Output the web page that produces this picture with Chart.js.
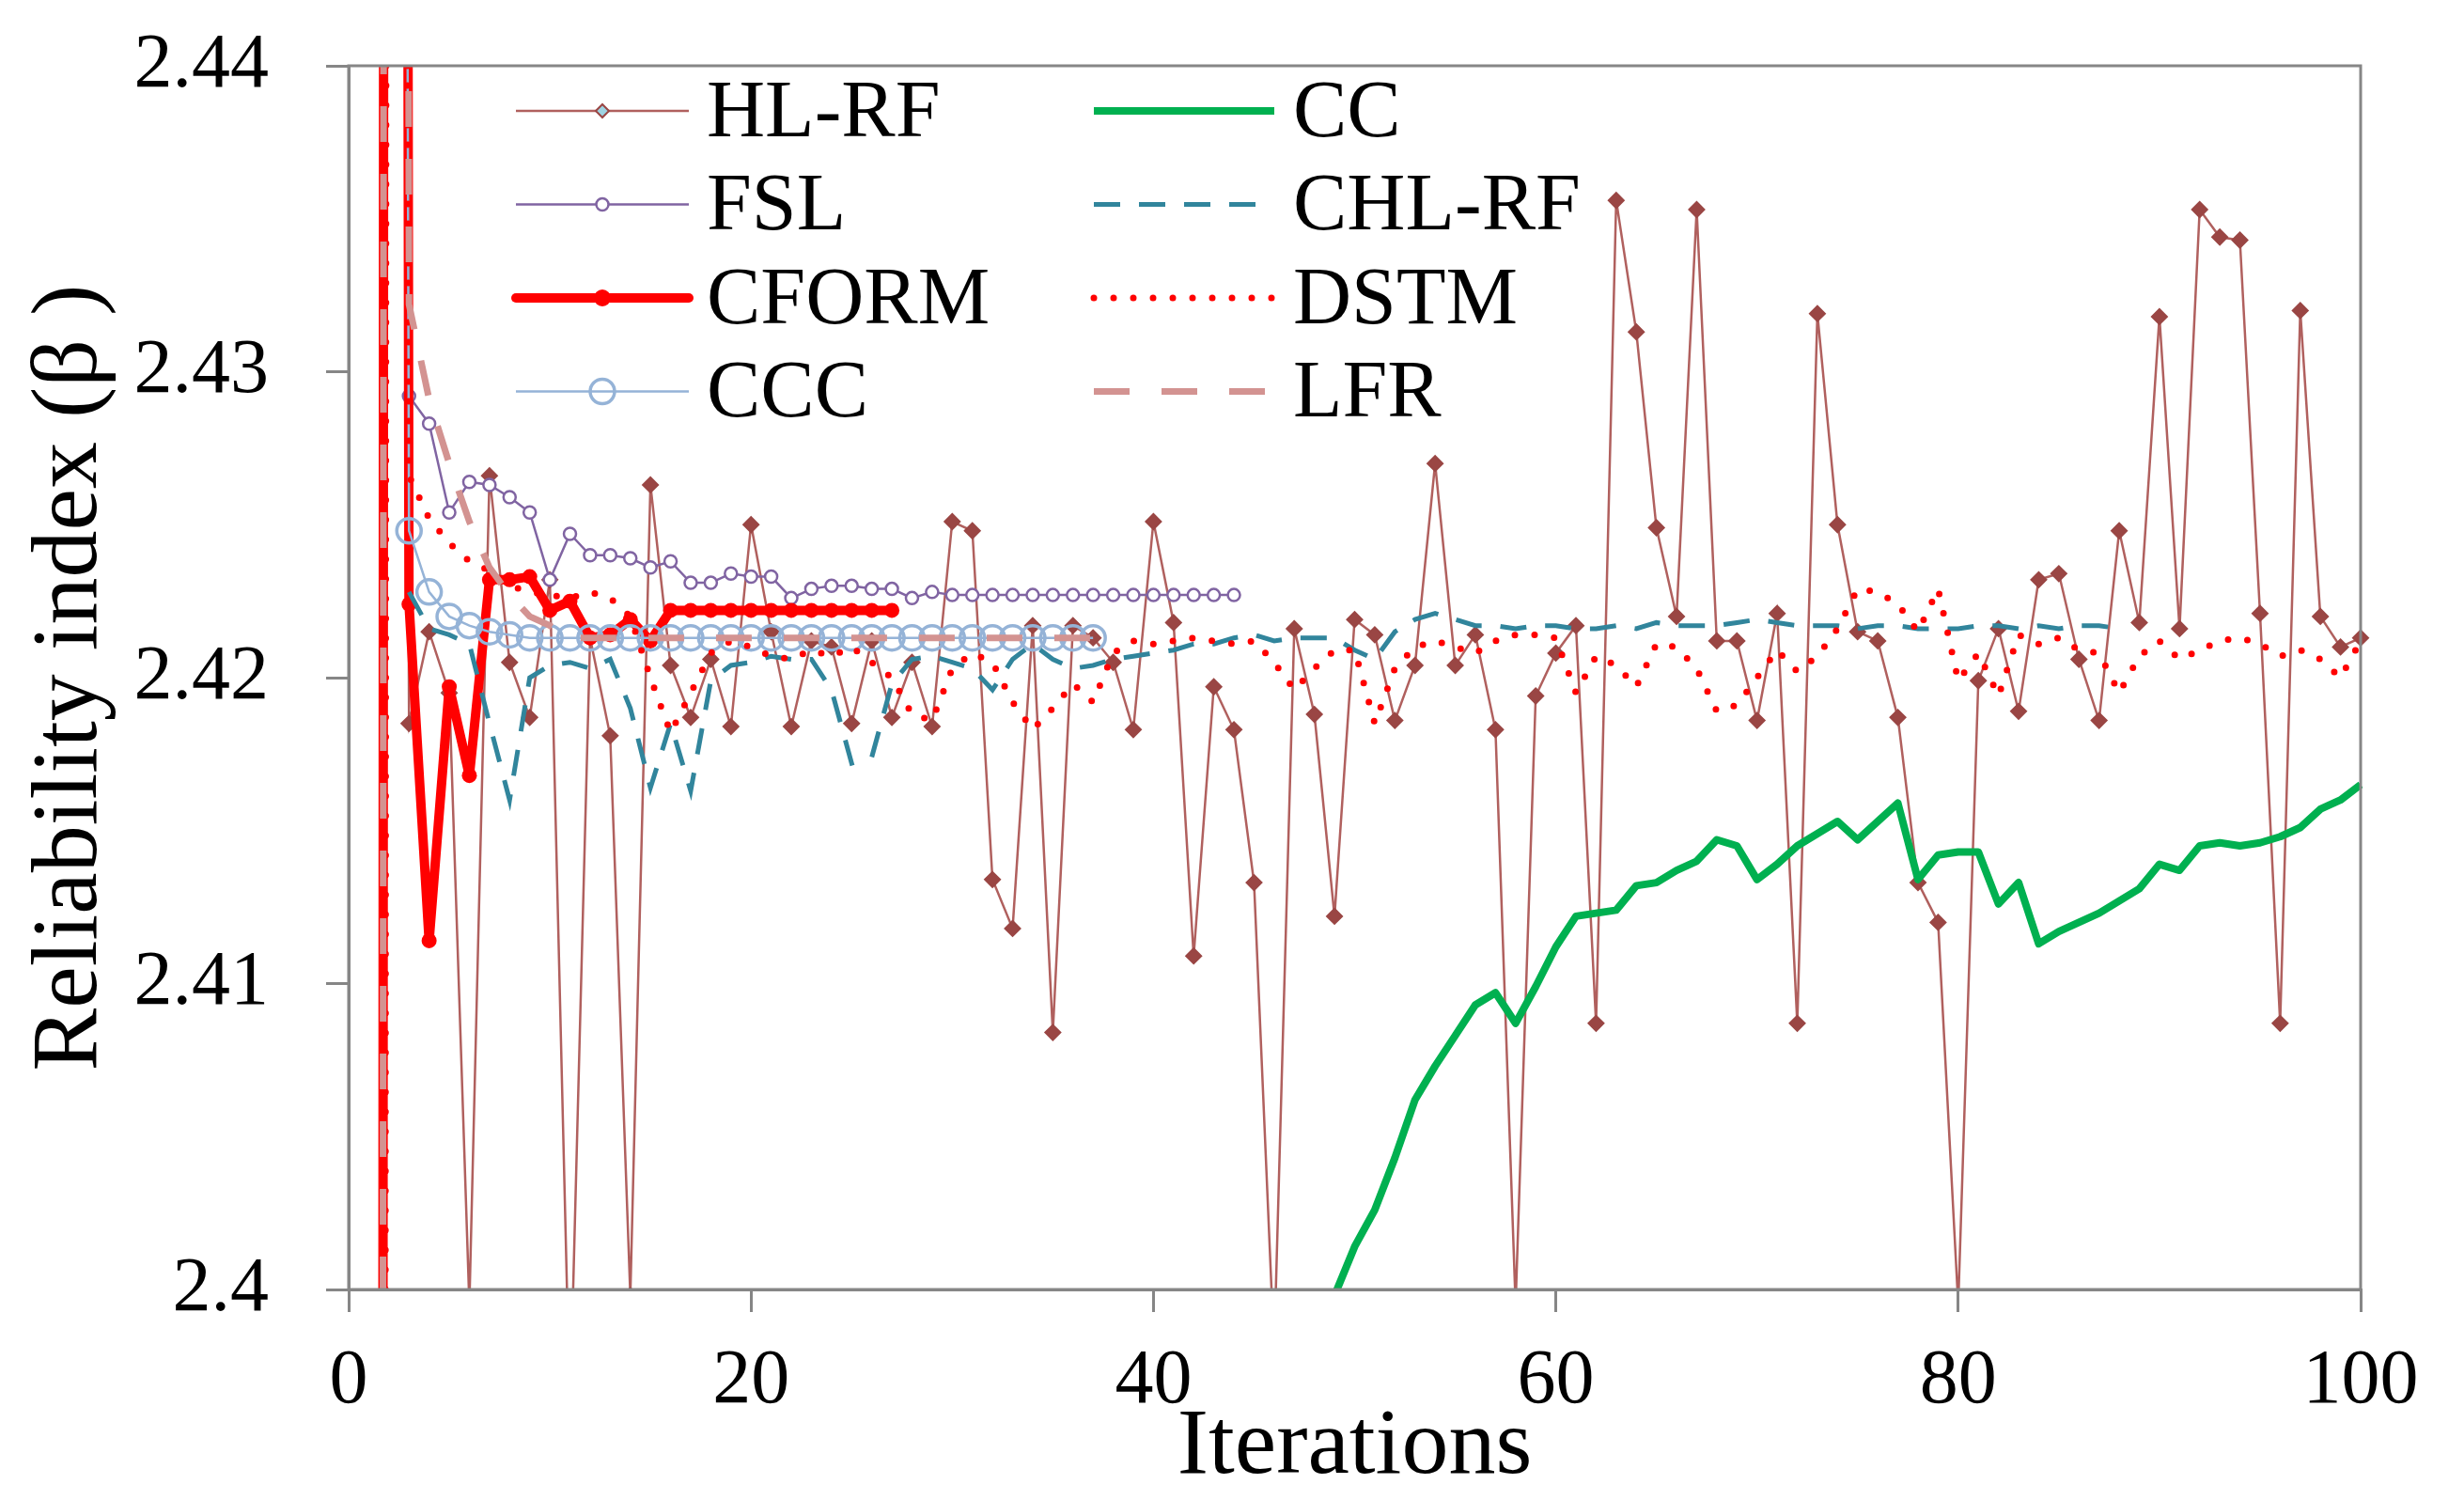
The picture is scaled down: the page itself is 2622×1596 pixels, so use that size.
<!DOCTYPE html>
<html>
<head>
<meta charset="utf-8">
<script src="https://cdn.jsdelivr.net/npm/chart.js@4.4.1/dist/chart.umd.min.js"></script>
<style>
  html, body { margin: 0; padding: 0; background: #fff; }
  #wrap { width: 2622px; height: 1596px; }
</style>
</head>
<body>
<div id="wrap"><canvas id="chart" width="2622" height="1596"></canvas></div>
<script>
// values, one array per method; each starts at its first iteration
const hlrfStart = 2;
const hlrfValues = [
  2.60, 2.4185, 2.4215, 2.4195, 2.3995, 2.4266, 2.4205, 2.4187, 2.4232, 2.3960,
  2.4213, 2.4181, 2.3998, 2.4263, 2.4204, 2.4187, 2.4206, 2.4184, 2.4250, 2.4215,
  2.4184, 2.4212, 2.4210, 2.4185, 2.4212, 2.4187, 2.4205, 2.4184, 2.4251, 2.4248,
  2.4134, 2.4118, 2.4217, 2.4084, 2.4217, 2.4213, 2.4205, 2.4183, 2.4251, 2.4218,
  2.4109, 2.4197, 2.4183, 2.4133, 2.3980, 2.4216, 2.4188, 2.4122, 2.4219, 2.4214,
  2.4186, 2.4204, 2.4270, 2.4204, 2.4214, 2.4183, 2.3995, 2.4194, 2.4208, 2.4217,
  2.4087, 2.4356, 2.4313, 2.4249, 2.4220, 2.4353, 2.4212, 2.4212, 2.4186, 2.4221,
  2.4087, 2.4319, 2.4250, 2.4215, 2.4212, 2.4187, 2.4133, 2.4120, 2.3995, 2.4199,
  2.4216, 2.4189, 2.4232, 2.4234, 2.4206, 2.4186, 2.4248, 2.4218, 2.4318, 2.4216,
  2.4353, 2.4344, 2.4343, 2.4221, 2.4087, 2.4320, 2.4220, 2.4210, 2.4213
];

const fslStart = 3;
const fslValues = [
  2.4292, 2.4283, 2.4254, 2.4264, 2.4263, 2.4259, 2.4254, 2.4232, 2.4247, 2.4240,
  2.4240, 2.4239, 2.4236, 2.4238, 2.4231, 2.4231, 2.4234, 2.4233, 2.4233, 2.4226,
  2.4229, 2.4230, 2.4230, 2.4229, 2.4229, 2.4226, 2.4228, 2.4227, 2.4227, 2.4227,
  2.4227, 2.4227, 2.4227, 2.4227, 2.4227, 2.4227, 2.4227, 2.4227, 2.4227, 2.4227,
  2.4227, 2.4227
];

const cformStart = 1;
const cformValues = [
  0.5, 2.8, 2.4224, 2.4114, 2.4197, 2.4168, 2.4232, 2.4232, 2.4233, 2.4222,
  2.4225, 2.4213, 2.4214, 2.4219, 2.4212, 2.4222, 2.4222, 2.4222, 2.4222, 2.4222,
  2.4222, 2.4222, 2.4222, 2.4222, 2.4222, 2.4222, 2.4222
];

const cccStart = 2;
const cccValues = [
  2.65, 2.4248, 2.4228, 2.4220, 2.4217, 2.4215, 2.4214, 2.4213, 2.4213, 2.4213,
  2.4213, 2.4213, 2.4213, 2.4213, 2.4213, 2.4213, 2.4213, 2.4213, 2.4213, 2.4213,
  2.4213, 2.4213, 2.4213, 2.4213, 2.4213, 2.4213, 2.4213, 2.4213, 2.4213, 2.4213,
  2.4213, 2.4213, 2.4213, 2.4213, 2.4213, 2.4213
];

const ccStart = 49;
const ccValues = [
  2.3998, 2.4014, 2.4026, 2.4043, 2.4062, 2.4073, 2.4083, 2.4093, 2.4097, 2.4087,
  2.4099, 2.4112, 2.4122, 2.4123, 2.4124, 2.4132, 2.4133, 2.4137, 2.4140, 2.4147,
  2.4145, 2.4134, 2.4139, 2.4145, 2.4149, 2.4153, 2.4147, 2.4153, 2.4159, 2.4134,
  2.4142, 2.4143, 2.4143, 2.4126, 2.4133, 2.4113, 2.4117, 2.4120, 2.4123, 2.4127,
  2.4131, 2.4139, 2.4137, 2.4145, 2.4146, 2.4145, 2.4146, 2.4148, 2.4151, 2.4157,
  2.4160, 2.4165
];

const chlrfStart = 3;
const chlrfValues = [
  2.4228, 2.4216, 2.4214, 2.4211, 2.4185, 2.4160, 2.4200, 2.4204, 2.4205, 2.4203,
  2.4206, 2.4190, 2.4164, 2.4185, 2.4163, 2.4199, 2.4204, 2.4205, 2.4207, 2.4206,
  2.4206, 2.4196, 2.4172, 2.4174, 2.4198, 2.4206, 2.4207, 2.4205, 2.4203, 2.4196,
  2.4206, 2.4211, 2.4206, 2.4203, 2.4204, 2.4206, 2.4207, 2.4208, 2.4209, 2.4211,
  2.4211, 2.4213, 2.4214, 2.4212, 2.4213, 2.4213, 2.4213, 2.4209, 2.4206, 2.4215,
  2.4219, 2.4221, 2.4219, 2.4217, 2.4217, 2.4216, 2.4217, 2.4217, 2.4216, 2.4216,
  2.4217, 2.4216, 2.4218, 2.4217, 2.4217, 2.4217, 2.4218, 2.4219, 2.4218, 2.4217,
  2.4217, 2.4217, 2.4216, 2.4217, 2.4217, 2.4216, 2.4216, 2.4216, 2.4217, 2.4217,
  2.4216, 2.4217, 2.4216, 2.4217, 2.4217, 2.4216
];

const dstmStart = 1;
const dstmValues = [
  0.5, 2.6, 2.4266, 2.4252, 2.4244, 2.4238, 2.4235, 2.4230, 2.4228, 2.4227,
  2.4226, 2.4228, 2.4226, 2.4220, 2.4200, 2.4182, 2.4195, 2.4208, 2.4212, 2.4210,
  2.4207, 2.4206, 2.4209, 2.4207, 2.4210, 2.4205, 2.4200, 2.4188, 2.4186, 2.4203,
  2.4208, 2.4205, 2.4192, 2.4183, 2.4190, 2.4198, 2.4192, 2.4208, 2.4212, 2.4211,
  2.4212, 2.4213, 2.4212, 2.4211, 2.4212, 2.4205, 2.4196, 2.4203, 2.4209, 2.4209,
  2.4185, 2.4203, 2.4210, 2.4212, 2.4210, 2.4208, 2.4212, 2.4214, 2.4214, 2.4213,
  2.4195, 2.4207, 2.4204, 2.4197, 2.4211, 2.4210, 2.4203, 2.4189, 2.4191, 2.4200,
  2.4209, 2.4202, 2.4207, 2.4216, 2.4229, 2.4228, 2.4224, 2.4215, 2.4229, 2.4199,
  2.4208, 2.4194, 2.4214, 2.4211, 2.4213, 2.4209, 2.4208, 2.4195, 2.4207, 2.4212,
  2.4206, 2.4209, 2.4212, 2.4213, 2.4211, 2.4207, 2.4209, 2.4206, 2.4200, 2.4212
];

const lfrStart = 1;
const lfrValues = [
  0.3, 2.8, 2.4322, 2.4291, 2.4270, 2.4251, 2.4236, 2.4227, 2.4220, 2.4217,
  2.4213, 2.4213, 2.4213, 2.4213, 2.4213, 2.4213, 2.4213, 2.4213, 2.4213, 2.4213,
  2.4213, 2.4213, 2.4213, 2.4213, 2.4213, 2.4213, 2.4213, 2.4213, 2.4213, 2.4213,
  2.4213, 2.4213, 2.4213, 2.4213, 2.4213, 2.4213, 2.4213, 2.4213
];

const xTicks = [0, 20, 40, 60, 80, 100];
const yTicks = [2.40, 2.41, 2.42, 2.43, 2.44];

// legend grid as in the figure: two columns, four rows
const legendLayout = [
  ['HL-RF', 'CC'],
  ['FSL', 'CHL-RF'],
  ['CFORM', 'DSTM'],
  ['CCC', 'LFR']
];

const serif = '"Liberation Serif", "Times New Roman", "DejaVu Serif", serif';

function toPoints(start, values) {
  return values.map((v, i) => ({ x: start + i, y: v }));
}

const clipBox = { left: 0, top: 0, right: 10, bottom: 0 };

const datasets = [
  {
    label: 'HL-RF', data: toPoints(hlrfStart, hlrfValues), order: 8,
    borderColor: '#B0605E', borderWidth: 2.5,
    pointStyle: 'rectRot', pointRadius: 8, pointBorderWidth: 2,
    pointBackgroundColor: '#9A4644', pointBorderColor: '#9A4644',
    legendMarkerFill: '#9ED3E2', legendMarkerRadius: 7
  },
  {
    label: 'FSL', data: toPoints(fslStart, fslValues), order: 7,
    borderColor: '#8064A2', borderWidth: 2.5,
    pointStyle: 'circle', pointRadius: 6.5, pointBorderWidth: 2.5,
    pointBackgroundColor: '#ffffff', pointBorderColor: '#8064A2'
  },
  {
    label: 'CFORM', data: toPoints(cformStart, cformValues), order: 6,
    borderColor: '#FF0000', borderWidth: 10, borderJoinStyle: 'round', borderCapStyle: 'round',
    pointStyle: 'circle', pointRadius: 8, pointBorderWidth: 0,
    pointBackgroundColor: '#FF0000', pointBorderColor: '#FF0000',
    legendMarkerRadius: 9
  },
  {
    label: 'CCC', data: toPoints(cccStart, cccValues), order: 5,
    borderColor: '#95B3D7', borderWidth: 2.5,
    pointStyle: 'circle', pointRadius: 13, pointBorderWidth: 3.5,
    pointBackgroundColor: 'rgba(255,255,255,0)', pointBorderColor: '#95B3D7',
    legendMarkerRadius: 13
  },
  {
    label: 'CC', data: toPoints(ccStart, ccValues), order: 4,
    borderColor: '#00B050', borderWidth: 8, borderJoinStyle: 'round',
    pointRadius: 0
  },
  {
    label: 'CHL-RF', data: toPoints(chlrfStart, chlrfValues), order: 3,
    borderColor: '#31859C', borderWidth: 5, borderDash: [28, 20],
    pointRadius: 0
  },
  {
    label: 'DSTM', data: toPoints(dstmStart, dstmValues), order: 2,
    borderColor: '#FF0000', borderWidth: 7, borderDash: [0, 21], borderCapStyle: 'round',
    pointRadius: 0
  },
  {
    label: 'LFR', data: toPoints(lfrStart, lfrValues), order: 1,
    borderColor: '#D39391', borderWidth: 7, borderDash: [38, 34],
    pointRadius: 0
  }
];
datasets.forEach(d => { d.clip = clipBox; d.tension = 0; d.fill = false; });

// grey box round the plot area
const plotFrame = {
  id: 'plotFrame',
  afterDatasetsDraw(chart) {
    const { ctx, chartArea: a } = chart;
    ctx.save();
    ctx.strokeStyle = '#868686';
    ctx.lineWidth = 3;
    ctx.strokeRect(a.left, a.top, a.right - a.left, a.bottom - a.top);
    ctx.restore();
  }
};

// legend drawn inside the plot, columns aligned like the original
const insideLegend = {
  id: 'insideLegend',
  afterDraw(chart) {
    const { ctx, chartArea } = chart;
    const cols = [
      { x1: chartArea.left + 178, x2: chartArea.left + 362, tx: chartArea.left + 381 },
      { x1: chartArea.left + 793, x2: chartArea.left + 985, tx: chartArea.left + 1005 }
    ];
    legendLayout.forEach((row, r) => {
      const y = chartArea.top + 48 + r * 99.5;
      row.forEach((name, c) => {
        const ds = chart.data.datasets.find(d => d.label === name);
        const col = cols[c];
        ctx.save();
        ctx.strokeStyle = ds.borderColor;
        ctx.lineWidth = ds.borderWidth;
        ctx.lineCap = ds.borderCapStyle || 'butt';
        ctx.setLineDash(ds.borderDash || []);
        ctx.beginPath();
        ctx.moveTo(col.x1, y);
        ctx.lineTo(col.x2, y);
        ctx.stroke();
        if (ds.pointRadius > 0) {
          ctx.setLineDash([]);
          ctx.fillStyle = ds.legendMarkerFill || ds.pointBackgroundColor;
          ctx.strokeStyle = ds.pointBorderColor;
          ctx.lineWidth = ds.pointBorderWidth;
          Chart.helpers.drawPoint(ctx, {
            pointStyle: ds.pointStyle,
            radius: ds.legendMarkerRadius || ds.pointRadius,
            rotation: 0,
            borderWidth: ds.pointBorderWidth
          }, (col.x1 + col.x2) / 2, y);
        }
        ctx.fillStyle = '#000';
        ctx.font = '86px ' + serif;
        ctx.textBaseline = 'middle';
        ctx.textAlign = 'left';
        ctx.fillText(name, col.tx, y + 4);
        ctx.restore();
      });
    });
  }
};

const ctx = document.getElementById('chart').getContext('2d');
const chart = new Chart(ctx, {
  type: 'line',
  data: { datasets: datasets },
  options: {
    responsive: false,
    animation: false,
    devicePixelRatio: 1,
    layout: { padding: { top: 70, right: 110, left: 0, bottom: 0 } },
    scales: {
      x: {
        type: 'linear',
        min: xTicks[0],
        max: xTicks[xTicks.length - 1],
        afterBuildTicks: (scale) => { scale.ticks = xTicks.map(v => ({ value: v })); },
        ticks: {
          color: '#000',
          font: { family: serif, size: 82, lineHeight: 1 },
          padding: 33,
          maxRotation: 0,
          autoSkip: false
        },
        grid: { drawOnChartArea: false, tickLength: 24, color: '#868686', lineWidth: 3 },
        border: { color: '#868686', width: 3 },
        title: {
          display: true,
          text: 'Iterations',
          color: '#000',
          font: { family: serif, size: 100, lineHeight: 1 },
          padding: { top: 0, bottom: 5 }
        },
        afterFit: (scale) => {
          scale.height = 224;
          scale.paddingLeft = 0;
          scale.paddingRight = 0;
        }
      },
      y: {
        type: 'linear',
        min: yTicks[0],
        max: yTicks[yTicks.length - 1],
        afterBuildTicks: (scale) => { scale.ticks = yTicks.map(v => ({ value: v })); },
        ticks: {
          color: '#000',
          font: { family: serif, size: 82, lineHeight: 1 },
          padding: 61,
          callback: (v) => String(Number(v.toFixed(2)))
        },
        grid: { drawOnChartArea: false, tickLength: 24, color: '#868686', lineWidth: 3 },
        border: { color: '#868686', width: 3 },
        title: {
          display: true,
          text: 'Reliability index (β )',
          color: '#000',
          font: { family: serif, size: 100, lineHeight: 1 },
          padding: { top: 26, bottom: 0 }
        },
        afterFit: (scale) => {
          scale.width = 371;
          scale.paddingTop = 0;
          scale.paddingBottom = 0;
        }
      }
    },
    plugins: {
      legend: { display: false },
      tooltip: { enabled: false }
    }
  },
  plugins: [plotFrame, insideLegend]
});
</script>
</body>
</html>
